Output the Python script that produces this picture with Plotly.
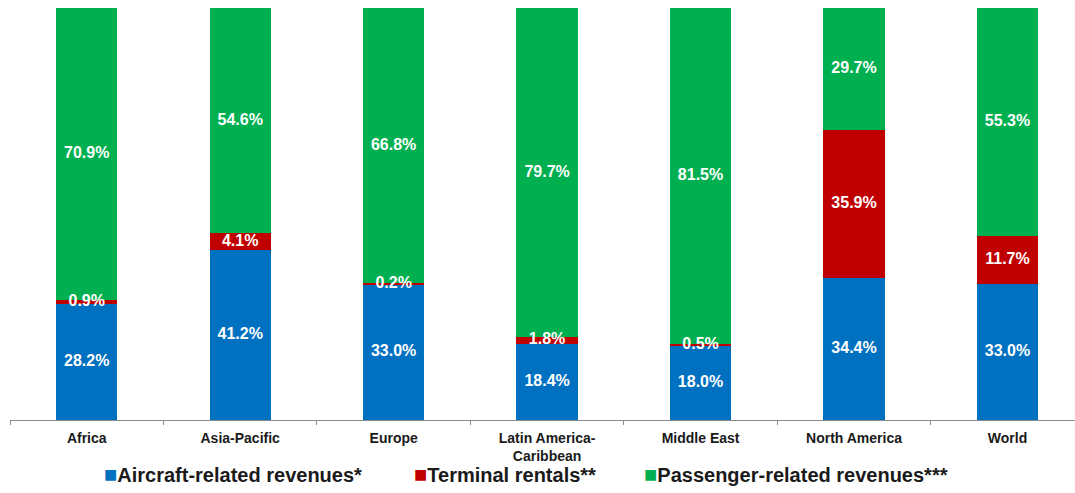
import plotly.graph_objects as go

# Share of airport revenues by region (%)
regions = ["Africa", "Asia-Pacific", "Europe", "Latin America-<br>Caribbean",
           "Middle East", "North America", "World"]
aircraft = [28.2, 41.2, 33.0, 18.4, 18.0, 34.4, 33.0]
terminal = [0.9, 4.1, 0.2, 1.8, 0.5, 35.9, 11.7]
passenger = [70.9, 54.6, 66.8, 79.7, 81.5, 29.7, 55.3]

series = [
    ("Aircraft-related revenues*", aircraft, "#0070C0"),
    ("Terminal rentals**", terminal, "#C00000"),
    ("Passenger-related revenues***", passenger, "#00B050"),
]

FONT = "Liberation Sans, Arial, sans-serif"

fig = go.Figure()
base = [0.0] * len(regions)
for name, vals, color in series:
    fig.add_trace(go.Bar(
        x=regions, y=vals, name=name, marker=dict(color=color, line=dict(width=0)),
        width=0.4, hoverinfo="skip", showlegend=False,
    ))
    # value labels centred in each segment
    mids = [b + v / 2 for b, v in zip(base, vals)]
    fig.add_trace(go.Scatter(
        x=regions, y=mids, mode="text", showlegend=False,
        text=[f"{v:.1f}%" for v in vals],
        textfont=dict(family=FONT, size=16, color="white", weight="bold"),
        textposition="middle center", hoverinfo="skip", cliponaxis=False,
    ))
    base = [b + v for b, v in zip(base, vals)]

# key row below the axis: coloured square followed by the series name
key_x = [0.0865, 0.377, 0.593]
for (name, _, color), kx in zip(series, key_x):
    fig.add_annotation(
        xref="paper", yref="paper", x=kx, y=-0.133, xanchor="left", yanchor="middle",
        showarrow=False,
        text=f"<span style='color:{color};font-size:22px'>■</span>{name}",
        font=dict(family=FONT, size=20, color="#1a1a1a", weight="bold"),
    )

fig.update_layout(
    barmode="stack",
    width=1075, height=493,
    margin=dict(l=10, r=0, t=7.5, b=73, autoexpand=False),
    paper_bgcolor="white", plot_bgcolor="white",
    showlegend=False,
    xaxis=dict(
        range=[-0.5, 6.44], showline=True, linecolor="#8c8c8c", linewidth=1,
        ticks="outside", tickson="boundaries", ticklen=4, tickcolor="#8c8c8c",
        tickfont=dict(family=FONT, size=14, color="#1a1a1a", weight="bold"),
        ticklabelstandoff=5, automargin=False,
        showgrid=False, zeroline=False,
    ),
    yaxis=dict(range=[0, 100], visible=False, showgrid=False, automargin=False),
)

fig.write_html("out.html")
